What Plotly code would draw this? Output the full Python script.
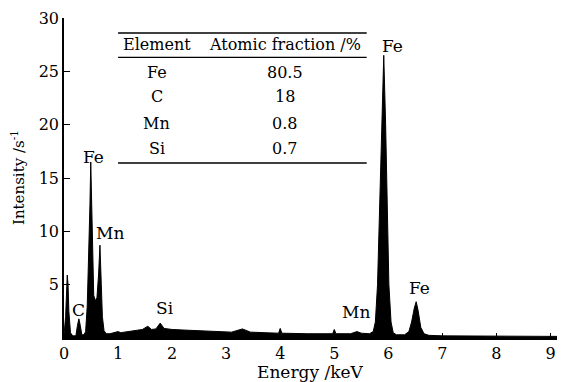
import plotly.graph_objects as go

# Spectrum
energy_kev = [0.0, 0.03, 0.06, 0.075, 0.09, 0.12, 0.16, 0.22, 0.25, 0.275, 0.30, 0.33,
              0.37, 0.40, 0.43, 0.46, 0.48, 0.495, 0.51, 0.53, 0.55, 0.58, 0.61, 0.64,
              0.665, 0.69, 0.71, 0.74, 0.78, 0.85, 0.95, 1.0, 1.05, 1.2, 1.35, 1.45,
              1.55, 1.62, 1.7, 1.78, 1.85, 2.0, 2.2, 2.5, 2.8, 3.1, 3.3, 3.45, 3.7,
              3.97, 4.0, 4.03, 4.5, 4.97, 5.0, 5.03, 5.3, 5.42, 5.5, 5.65, 5.72, 5.76,
              5.80, 5.84, 5.88, 5.915, 5.95, 5.98, 6.01, 6.05, 6.09, 6.15, 6.3, 6.38,
              6.43, 6.48, 6.515, 6.55, 6.6, 6.66, 6.75, 7.0, 7.5, 8.0, 8.5, 9.12]
intensity = [0.3, 2.0, 5.9, 5.0, 2.5, 0.5, 0.2, 0.2, 1.2, 1.8, 1.2, 0.3,
             0.3, 0.6, 3.0, 8.0, 12.5, 16.5, 12.0, 7.0, 4.0, 3.5, 3.8, 6.0,
             8.7, 5.0, 2.0, 0.7, 0.4, 0.4, 0.5, 0.6, 0.5, 0.6, 0.7, 0.8,
             1.1, 0.8, 0.85, 1.4, 0.9, 0.8, 0.75, 0.7, 0.6, 0.55, 0.85, 0.55, 0.5,
             0.45, 0.9, 0.45, 0.4, 0.4, 0.8, 0.4, 0.4, 0.6, 0.45, 0.4, 0.6, 1.5,
             5.0, 12.0, 20.0, 26.5, 20.0, 12.0, 5.0, 1.5, 0.5, 0.3, 0.3, 0.6,
             1.5, 2.8, 3.4, 2.6, 1.0, 0.4, 0.25, 0.2, 0.2, 0.18, 0.15, 0.15]

# Peak labels
peak_labels = ["C", "Fe", "Mn", "Si", "Mn", "Fe", "Fe"]
peak_label_x = [0.27, 0.55, 0.85, 1.87, 5.4, 6.07, 6.57]
peak_label_y = [2.6, 17.0, 9.8, 2.8, 2.4, 27.4, 4.7]

# Inset table
table_header = ["Element", "Atomic fraction /%"]
table_elements = ["Fe", "C", "Mn", "Si"]
table_fractions = ["80.5", "18", "0.8", "0.7"]

x_ticks = list(range(0, 10))
y_ticks = [5, 10, 15, 20, 25, 30]
x_title = "Energy /keV"
y_title = "Intensity /s<sup>-1</sup>"

FONT = "DejaVu Serif"

fig = go.Figure()
fig.add_trace(go.Scatter(x=energy_kev, y=intensity, mode="lines",
                         line=dict(color="black", width=1),
                         fill="tozeroy", fillcolor="black",
                         hoverinfo="skip", showlegend=False))

annotations = []
for t, x, y in zip(peak_labels, peak_label_x, peak_label_y):
    annotations.append(dict(x=x, y=y, text=t, showarrow=False, xref="x", yref="y",
                            font=dict(family=FONT, size=17, color="black")))

# table layout (positions in data coordinates)
tab_x0, tab_x1 = 1.0, 5.6
col1_x, col2_x = 1.72, 4.08
header_y = 27.5
row_ys = [24.9, 22.6, 20.1, 17.8]
cell_font = dict(family=FONT, size=16, color="black")
annotations.append(dict(x=col1_x, y=header_y, text=table_header[0], showarrow=False, font=cell_font))
annotations.append(dict(x=col2_x, y=header_y, text=table_header[1], showarrow=False, font=cell_font))
for el, fr, ry in zip(table_elements, table_fractions, row_ys):
    annotations.append(dict(x=col1_x, y=ry, text=el, showarrow=False, font=cell_font))
    annotations.append(dict(x=col2_x, y=ry, text=fr, showarrow=False, font=cell_font))

# axis titles (pixel offsets from the plot area)
annotations.append(dict(x=0.5, y=0, xref="paper", yref="paper", yshift=-34,
                        text=x_title, showarrow=False, xanchor="center", yanchor="middle",
                        font=dict(family=FONT, size=17, color="black")))
annotations.append(dict(x=0, y=0.5, xref="paper", yref="paper", xshift=-46,
                        text=y_title, showarrow=False, textangle=-90,
                        xanchor="center", yanchor="middle",
                        font=dict(family=FONT, size=15, color="black")))

shapes = []
for ly, w in [(28.6, 1.5), (26.3, 1.2), (16.4, 1.5)]:
    shapes.append(dict(type="line", xref="x", yref="y", x0=tab_x0, x1=tab_x1,
                       y0=ly, y1=ly, line=dict(color="black", width=w)))

fig.update_layout(
    width=567, height=382,
    margin=dict(l=64, r=10, t=18, b=44, autoexpand=False),
    paper_bgcolor="white", plot_bgcolor="white",
    font=dict(family=FONT, size=16, color="black"),
    annotations=annotations, shapes=shapes,
    xaxis=dict(range=[0, 9.12], tickvals=x_ticks, ticks="inside", ticklen=5,
               tickcolor="black", showline=True, linecolor="black", linewidth=1.5,
               showgrid=False, zeroline=False, mirror=False, automargin=False,
               tickfont=dict(size=16)),
    yaxis=dict(range=[0, 30], tickvals=y_ticks, ticks="inside", ticklen=6,
               tickcolor="black", showline=True, linecolor="black", linewidth=1.5,
               showgrid=False, zeroline=False, mirror=False, automargin=False,
               tickfont=dict(size=16)),
)

fig.write_html("out.html", config={"displayModeBar": False},
               post_script="document.body.style.margin='0';document.body.style.padding='0';")
